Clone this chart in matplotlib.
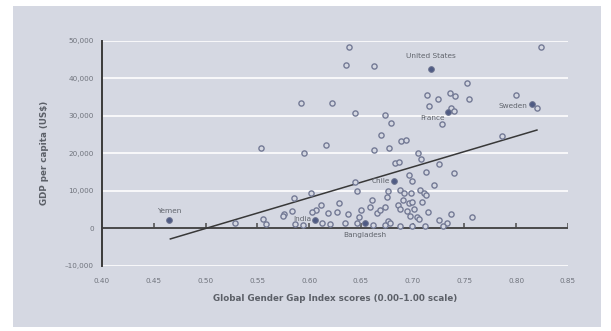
import matplotlib
matplotlib.use("Agg")
import matplotlib.pyplot as plt
from matplotlib import font_manager

# Font: prefer a narrow face if present
names = {f.name for f in font_manager.fontManager.ttflist}
base = "Liberation Sans Narrow" if "Liberation Sans Narrow" in names else "DejaVu Sans"
plt.rcParams["font.family"] = [base, "DejaVu Sans"]

# Global Gender Gap Index score vs GDP per capita (US$), all countries
gap_score = [
    0.639, 0.636, 0.663, 0.824, 0.752, 0.714, 0.724, 0.736, 0.741, 0.754,
    0.800, 0.820, 0.716, 0.737, 0.740, 0.622, 0.592, 0.644, 0.673, 0.679,
    0.728, 0.669, 0.786, 0.689, 0.694, 0.616, 0.554, 0.595, 0.663, 0.677,
    0.705, 0.708, 0.683, 0.687, 0.725, 0.713, 0.740, 0.696, 0.699, 0.721,
    0.644, 0.646, 0.602, 0.585, 0.629, 0.611, 0.607, 0.603, 0.583, 0.576,
    0.618, 0.627, 0.638, 0.650, 0.648, 0.661, 0.659, 0.676, 0.675, 0.666,
    0.668, 0.688, 0.692, 0.698, 0.707, 0.711, 0.713, 0.691, 0.696, 0.699,
    0.709, 0.673, 0.686, 0.688, 0.695, 0.701, 0.715, 0.737, 0.757, 0.725,
    0.733, 0.676, 0.678, 0.697, 0.704, 0.706, 0.555, 0.558, 0.528, 0.586,
    0.594, 0.612, 0.620, 0.635, 0.646, 0.662, 0.673, 0.688, 0.699, 0.712,
    0.729, 0.575,
]
gdp_per_capita = [
    48300, 43700, 43200, 48500, 38900, 35500, 34500, 36000, 35300, 34500,
    35700, 32100, 32500, 32000, 31300, 33500, 33300, 30800, 30300, 28100,
    27700, 24900, 24600, 23300, 23500, 22300, 21500, 20200, 21000, 21400,
    20100, 18400, 17400, 17600, 17200, 15100, 14800, 14200, 12600, 11500,
    12200, 9900, 9500, 8100, 6600, 6200, 4800, 4200, 4600, 3700,
    3900, 4400, 3700, 4800, 3000, 7500, 5700, 9900, 8400, 3900,
    4800, 10300, 9300, 9400, 10200, 9300, 8800, 7500, 6600, 7000,
    7000, 5700, 6200, 5000, 4600, 5000, 4400, 3700, 2900, 2100,
    1400, 1900, 1300, 3200, 3000, 2300, 2300, 1000, 1300, 1000,
    800, 1300, 1000, 1300, 1300, 800, 800, 500, 500, 500,
    500, 3200,
]

# Highlighted countries
hl_names = ["United States", "Sweden", "France", "Chile", "India", "Bangladesh", "Yemen"]
hl_score = [0.718, 0.815, 0.734, 0.682, 0.606, 0.654, 0.465]
hl_gdp = [42600, 33100, 30900, 12600, 2100, 1300, 2100]

# Linear trend endpoints
trend_score = [0.466, 0.820]
trend_gdp = [-2900, 26200]

x_ticks = [0.40, 0.45, 0.50, 0.55, 0.60, 0.65, 0.70, 0.75, 0.80, 0.85]
y_ticks = [-10000, 0, 10000, 20000, 30000, 40000, 50000]

panel = "#d5d8e2"
txt = "#6f737c"
fig = plt.figure(figsize=(6.11, 3.31), dpi=100)
fig.patch.set_facecolor("white")

# Tinted background panel behind the chart
bg = fig.add_axes([13 / 611, 4 / 331, 588 / 611, 321 / 331], zorder=-1)
bg.set_facecolor(panel)
bg.set_xticks([])
bg.set_yticks([])
for s in bg.spines.values():
    s.set_visible(False)

ax = fig.add_axes([102 / 611, 1 - 265.5 / 331, 466 / 611, 224.5 / 331], zorder=1)
ax.set_facecolor("none")
ax.set_xlim(0.40, 0.85)
ax.set_ylim(-10000, 50000)

for s in ["top", "right", "bottom"]:
    ax.spines[s].set_visible(False)
ax.spines["left"].set_color("#3a3a3a")
ax.spines["left"].set_linewidth(1.4)

# White horizontal gridlines
for yv in y_ticks:
    if yv != 0:
        ax.axhline(yv, color="white", lw=1.3, alpha=0.9, zorder=1)

# Zero baseline with small upward ticks
ax.axhline(0, color="#4a4a4a", lw=1.4, zorder=2)
ax.vlines(x_ticks[1:], 0, 1300, color="#4a4a4a", lw=1.1, zorder=2)

ax.set_xticks(x_ticks)
ax.set_xticklabels([f"{v:.2f}" for v in x_ticks])
ax.set_yticks(y_ticks)
ax.set_yticklabels([f"{v:,}".replace("-", "\u2013") for v in y_ticks])
ax.tick_params(axis="both", length=0, labelsize=5.2, colors=txt)
ax.tick_params(axis="x", pad=9)
ax.tick_params(axis="y", pad=6)

ax.set_xlabel("Global Gender Gap Index scores (0.00\u20131.00 scale)",
              fontsize=6.3, fontweight="bold", color="#5c6068", labelpad=7)
ax.set_ylabel("GDP per capita (US$)", fontsize=6.3, fontweight="bold",
              color="#5c6068", labelpad=11)

# Trend line
ax.plot(trend_score, trend_gdp, color="#383838", lw=1.1, zorder=3)

# Open markers for all countries
ax.scatter(gap_score, gdp_per_capita, s=14, facecolors=panel,
           edgecolors="#737a95", linewidths=1.0, zorder=4, clip_on=False)

# Highlighted countries
ax.scatter(hl_score, hl_gdp, s=17, facecolors="#4f5b84",
           edgecolors="#6e7590", linewidths=0.7, zorder=5, clip_on=False)

label_style = dict(fontsize=5.3, color="#60646c", zorder=6)
offsets = {
    "United States": (0, 2600, "center", "bottom"),
    "Sweden": (-0.004, -600, "right", "center"),
    "France": (-0.003, -1400, "right", "center"),
    "Chile": (-0.004, 0, "right", "center"),
    "India": (-0.004, 300, "right", "center"),
    "Bangladesh": (0.0, -2300, "center", "top"),
    "Yemen": (0.0, 1600, "center", "bottom"),
}
for n, xv, yv in zip(hl_names, hl_score, hl_gdp):
    dx, dy, ha, va = offsets[n]
    ax.text(xv + dx, yv + dy, n, ha=ha, va=va, **label_style)

fig.savefig("out.png", dpi=100, facecolor=fig.get_facecolor())
